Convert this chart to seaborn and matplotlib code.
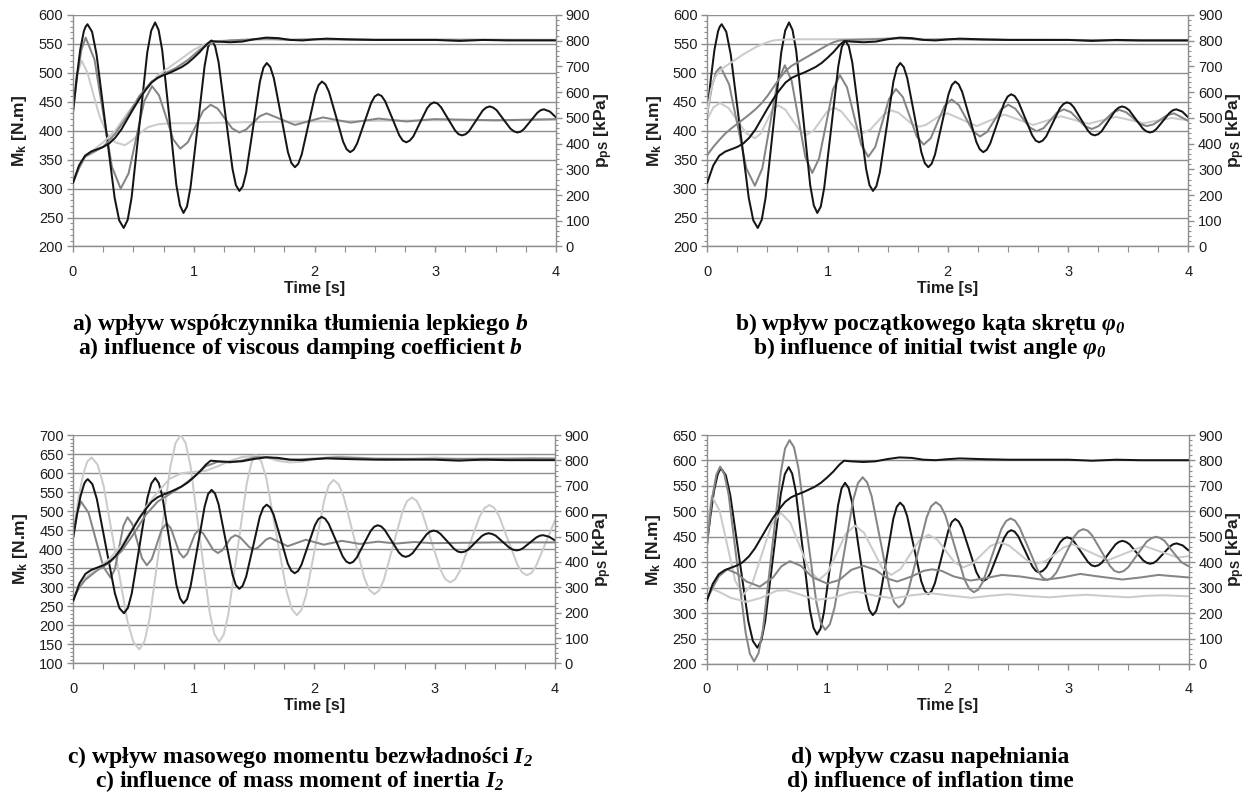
import matplotlib
matplotlib.use("Agg")
import matplotlib.pyplot as plt
import seaborn as sns
from matplotlib.ticker import MultipleLocator

# ---------------- data ----------------
# reference case (black): torque M_k [N.m] and pressure p_pS [kPa]
t_ref_M = [0, 0.03, 0.06, 0.09, 0.105, 0.12,
           0.158, 0.195, 0.27, 0.345, 0.383, 0.42,
           0.453, 0.485, 0.55, 0.615, 0.648, 0.68,
           0.709, 0.739, 0.798, 0.856, 0.886, 0.915,
           0.944, 0.973, 1.032, 1.09, 1.119, 1.148,
           1.177, 1.206, 1.263, 1.321, 1.349, 1.378,
           1.406, 1.435, 1.492, 1.548, 1.577, 1.605,
           1.634, 1.663, 1.722, 1.78, 1.809, 1.838,
           1.866, 1.894, 1.95, 2.006, 2.034, 2.062,
           2.091, 2.12, 2.179, 2.237, 2.266, 2.295,
           2.324, 2.353, 2.411, 2.469, 2.498, 2.527,
           2.556, 2.585, 2.644, 2.702, 2.731, 2.76,
           2.789, 2.818, 2.875, 2.933, 2.961, 2.99,
           3.019, 3.048, 3.106, 3.164, 3.193, 3.222,
           3.251, 3.279, 3.336, 3.393, 3.422, 3.45,
           3.479, 3.508, 3.565, 3.623, 3.651, 3.68,
           3.708, 3.735, 3.79, 3.845, 3.873, 3.90,
           3.95, 4.0]
M_ref = [432, 490, 540, 572, 580, 584,
         571, 532, 408, 284, 245, 232,
         246, 284, 409.5, 535, 573, 587,
         574, 539, 422.5, 306, 271, 258,
         269, 302, 407, 512, 545, 556,
         546, 518, 426, 334, 306, 296,
         304, 328, 406.5, 485, 509, 517,
         510, 491, 427, 363, 344, 337,
         343, 359, 411, 463, 479, 485,
         480, 467, 424, 381, 368, 363,
         367, 378, 413, 448, 459, 463,
         460, 451, 421.5, 392, 383, 380,
         383, 390, 414.5, 439, 446, 449,
         447, 440.5, 420.5, 400.5, 394, 392,
         394, 399, 417, 435, 440, 442,
         440, 435.5, 419.5, 403.5, 399, 397,
         398.5, 403, 417, 431, 435.5, 437,
         433, 423]
t_ref_p = [0, 0.05, 0.1, 0.15, 0.2, 0.25, 0.3, 0.35, 0.4, 0.45, 0.5, 0.55, 0.6, 0.65, 0.7, 0.75, 0.8, 0.85, 0.9,
           0.95, 1.0, 1.05, 1.1, 1.14, 1.2, 1.3, 1.4, 1.5, 1.6, 1.7, 1.8, 1.9, 2.0, 2.1, 2.3, 2.5, 2.7, 3.0, 3.2,
           3.4, 3.6, 3.8, 4.0]
p_ref = [247.5, 315, 353, 369, 378, 387, 400.5, 423, 454.5, 495, 535.5, 574, 607.5, 637, 655, 666, 675, 686,
         697.5, 713, 733.5, 756, 783, 799, 796.5, 794, 796.5, 805.5, 812, 810, 803, 801, 805, 808, 805, 803, 803,
         803, 799, 803, 801, 801, 801]

# panel a) viscous damping coefficient b
t_a_M_dg = [0, 0.035, 0.07, 0.105, 0.178, 0.25, 0.322, 0.395, 0.46, 0.525, 0.59, 0.655, 0.713, 0.772, 0.83, 0.888,
            0.951, 1.014, 1.077, 1.14, 1.199, 1.258, 1.318, 1.377, 1.433, 1.49, 1.546, 1.603, 1.72, 1.838, 1.954,
            2.07, 2.185, 2.3, 2.415, 2.53, 2.645, 2.76, 2.99, 3.5, 4.0]
M_a_dg = [432, 495, 540, 561, 523, 430.5, 338, 300, 326, 388.5, 451, 477, 461, 423, 385, 369, 380, 407, 434, 445,
          438, 421, 404, 397, 402, 413.5, 425, 430, 420, 410, 416.5, 423, 418.5, 414, 417.5, 421, 418.5, 416, 420,
          418, 420]
t_a_M_lg = [0, 0.03, 0.072, 0.12, 0.17, 0.22, 0.28, 0.35, 0.43, 0.5, 0.56, 0.62, 0.7, 0.8, 1.0, 1.5, 2.0, 2.5, 3.0,
            3.5, 4.0]
M_a_lg = [440, 495, 521, 500, 462, 425, 395, 380, 375, 385, 397, 406, 411, 413, 413, 415, 416, 417, 418, 418, 419]
t_a_p_dg = [0, 0.05, 0.1, 0.25, 0.35, 0.45, 0.55, 0.65, 0.75, 0.85, 0.95, 1.05, 1.15, 1.3, 1.6, 1.8, 2.0, 2.5,
            3.0, 4.0]
p_a_dg = [247.5, 304, 349, 387, 439, 506, 585, 641, 670.5, 693, 724.5, 765, 794, 801, 808, 803, 805.5, 803, 803,
          803]
t_a_p_lg = [0, 0.05, 0.1, 0.25, 0.35, 0.45, 0.6, 0.7, 0.8, 0.9, 1.0, 1.1, 1.2, 1.4, 2.0, 3.0, 4.0]
p_a_lg = [247.5, 310.5, 349, 405, 450, 517.5, 607.5, 664, 697.5, 731, 765, 787.5, 799, 803, 805.5, 805.5, 803]

# panel b) initial twist angle phi_0
t_b_M_dg = [0, 0.04, 0.075, 0.111, 0.182, 0.254, 0.325, 0.396, 0.458, 0.52, 0.583, 0.645, 0.702, 0.759, 0.816,
            0.873, 0.93, 0.988, 1.045, 1.103, 1.162, 1.221, 1.28, 1.339, 1.397, 1.454, 1.512, 1.569, 1.627, 1.685,
            1.742, 1.80, 1.858, 1.916, 1.974, 2.032, 2.091, 2.15, 2.209, 2.268, 2.327, 2.386, 2.444, 2.503, 2.562,
            2.621, 2.68, 2.739, 2.796, 2.853, 2.909, 2.966, 3.024, 3.082, 3.139, 3.197, 3.254, 3.312, 3.369, 3.426,
            3.483, 3.54, 3.597, 3.654, 3.711, 3.768, 3.824, 3.881, 4.0]
M_b_dg = [430, 478, 502, 510, 480, 407.5, 335, 305, 335, 409, 483, 513, 486, 420, 354, 327, 352, 411.5, 471, 496,
          475, 425.5, 376, 355, 372, 413.5, 455, 472, 458, 424, 390, 376, 387, 415, 443, 454, 444.5, 422, 399.5,
          390, 398, 417.5, 437, 445, 438, 422, 406, 399, 404.5, 418, 431.5, 437, 432, 420, 408, 403, 408, 419.5,
          431, 436, 432, 422, 412, 408, 411, 419, 427, 430, 417]
t_b_M_lg = [0, 0.05, 0.105, 0.178, 0.25, 0.323, 0.396, 0.444, 0.493, 0.541, 0.59, 0.649, 0.708, 0.767, 0.826,
            0.883, 0.94, 0.996, 1.053, 1.114, 1.175, 1.236, 1.297, 1.356, 1.415, 1.474, 1.533, 1.59, 1.648, 1.705,
            1.763, 1.822, 1.88, 1.94, 2.0, 2.12, 2.24, 2.355, 2.47, 2.59, 2.71, 2.825, 2.94, 3.055, 3.17, 3.285,
            3.4, 3.515, 3.63, 3.745, 3.86, 4.0]
M_b_lg = [420, 440, 448, 439, 417.5, 396, 387, 395, 415.5, 436, 444, 436.5, 418.5, 400.5, 393, 400, 416.5, 433,
          440, 433.5, 418, 402.5, 396, 402, 415.5, 429, 435, 431, 421, 411, 407, 410.5, 418.5, 426.5, 430, 419,
          408, 418, 428, 419, 410, 417.5, 425, 418.5, 412, 418, 424, 418.5, 413, 417.5, 422, 418]
t_b_p_dg = [0, 0.05, 0.1, 0.15, 0.2, 0.25, 0.3, 0.35, 0.4, 0.45, 0.5, 0.55, 0.6, 0.65, 0.7, 0.75, 0.8, 0.85, 0.9,
            0.95, 1.0, 1.05, 1.1, 1.2, 1.4, 1.6, 1.8, 2.0, 2.5, 3.0, 3.5, 4.0]
p_b_dg = [355.5, 387, 414, 439, 459, 477, 495, 513, 533, 556, 585, 619, 652.5, 682, 702, 715.5, 729, 742.5, 756,
          769.5, 783, 794, 801, 803, 805.5, 810, 803, 805.5, 803, 803, 801, 801]
t_b_p_lg = [0, 0.03, 0.06, 0.1, 0.15, 0.2, 0.25, 0.3, 0.35, 0.4, 0.45, 0.5, 0.55, 0.6, 0.7, 0.8, 1.0, 1.5, 2.0,
            3.0, 4.0]
p_b_lg = [522, 607.5, 652.5, 682, 700, 715.5, 731, 747, 760.5, 774, 785, 794, 801, 803, 805.5, 805.5, 805.5, 808,
          805.5, 803, 803]

# panel c) mass moment of inertia I_2
t_c_M_dg = [0, 0.03, 0.064, 0.126, 0.187, 0.249, 0.31, 0.345, 0.38, 0.415, 0.45, 0.49, 0.53, 0.57, 0.61, 0.651,
            0.693, 0.734, 0.775, 0.81, 0.845, 0.88, 0.915, 0.946, 0.978, 1.009, 1.04, 1.08, 1.12, 1.16, 1.2, 1.236,
            1.273, 1.309, 1.345, 1.384, 1.423, 1.461, 1.5, 1.534, 1.568, 1.601, 1.635, 1.708, 1.78, 1.855, 1.93,
            2.005, 2.08, 2.155, 2.23, 2.305, 2.38, 2.53, 2.68, 2.83, 2.98, 3.5, 4.0]
M_c_dg = [441, 495, 525, 496, 425, 354, 325, 348, 404.5, 461, 484, 465.5, 421, 376.5, 358, 374, 413, 452, 468,
          455, 423, 391, 378, 388.5, 414, 439.5, 450, 441, 420, 399, 390, 397, 413.5, 430, 437, 431.5, 418.5,
          405.5, 400, 404.5, 415, 425.5, 430, 419, 408, 416.5, 425, 418.5, 412, 417, 422, 418, 414, 420, 415, 419,
          416, 418, 418]
t_c_M_lg = [0, 0.04, 0.08, 0.115, 0.152,
            0.202, 0.251, 0.35, 0.449, 0.499, 0.548,
            0.591, 0.634, 0.72, 0.806, 0.849, 0.892,
            0.932, 0.972, 1.051, 1.131, 1.17, 1.21,
            1.249, 1.287, 1.364, 1.441, 1.48, 1.518,
            1.56, 1.603, 1.687, 1.772, 1.814, 1.856,
            1.894, 1.932, 2.008, 2.084, 2.122, 2.16,
            2.203, 2.245, 2.33, 2.415, 2.458, 2.50,
            2.539, 2.578, 2.655, 2.733, 2.771, 2.81,
            2.85, 2.89, 2.97, 3.049, 3.089, 3.129,
            3.17, 3.21, 3.292, 3.374, 3.414, 3.455,
            3.494, 3.533, 3.61, 3.688, 3.727, 3.766,
            3.805, 3.844, 3.921, 4.0]
M_c_lg = [441, 530, 595, 630, 641,
          622, 567, 389, 211, 156, 137,
          158, 219.5, 418.5, 617.5, 679, 700,
          679, 620.5, 428.5, 236.5, 178, 157,
          176, 229, 402, 575, 628, 647,
          631, 585.5, 437, 288.5, 243, 227,
          240.5, 279, 404.5, 530, 568.5, 582,
          570.5, 538, 432, 326, 293, 282,
          292, 319, 409, 499, 526, 536,
          527.5, 503, 424.5, 346, 321.5, 313,
          321, 343, 414.5, 486, 508, 516,
          509, 489, 424, 359, 339, 332,
          338, 357, 416, 476]
t_c_p_dg = [0, 0.05, 0.1, 0.2, 0.3, 0.4, 0.5, 0.6, 0.7, 0.8, 0.9, 1.0, 1.1, 1.2, 1.3, 1.4, 1.5, 1.6, 1.7, 1.8,
            2.0, 2.2, 2.5, 3.0, 3.5, 4.0]
p_c_dg = [255, 300, 330, 367.5, 397.5, 442.5, 510, 585, 637.5, 667.5, 697.5, 735, 777, 795, 792, 799.5, 811.5,
          813, 807, 802.5, 807, 811.5, 807, 805.5, 807, 807]
t_c_p_lg = [0, 0.05, 0.1, 0.2, 0.3, 0.4, 0.5, 0.6, 0.7, 0.8, 0.9, 1.0, 1.1, 1.2, 1.3, 1.4, 1.5, 1.6, 1.7, 1.8,
            1.9, 2.0, 2.1, 2.2, 2.4, 2.6, 2.8, 3.0, 3.2, 3.4, 3.6, 3.8, 4.0]
p_c_lg = [255, 307.5, 337.5, 375, 412.5, 465, 540, 615, 675, 727.5, 750, 754.5, 759, 777, 798, 813, 819, 813,
          798, 792, 795, 804, 811.5, 816, 810, 801, 805.5, 811.5, 805.5, 799.5, 805.5, 810, 807]

# panel d) inflation time
t_d_M_dg = [0, 0.04, 0.08, 0.111,
            0.146, 0.182, 0.252, 0.323, 0.358, 0.393,
            0.43, 0.467, 0.54, 0.614, 0.65, 0.687,
            0.724, 0.761, 0.835, 0.909, 0.946, 0.983,
            1.022, 1.061, 1.139, 1.216, 1.255, 1.294,
            1.331, 1.369, 1.444, 1.518, 1.556, 1.593,
            1.632, 1.67, 1.748, 1.825, 1.863, 1.902,
            1.941, 1.981, 2.06, 2.138, 2.178, 2.217,
            2.255, 2.293, 2.369, 2.445, 2.483, 2.521,
            2.559, 2.597, 2.674, 2.75, 2.788, 2.826,
            2.863, 2.901, 2.976, 3.05, 3.088, 3.125,
            3.162, 3.199, 3.273, 3.347, 3.384, 3.421,
            3.459, 3.498, 3.574, 3.65, 3.689, 3.727,
            3.76, 3.8, 3.87, 3.94, 4.0]
M_d_dg = [430, 520, 572, 588,
          573, 532, 396.5, 261, 220, 205,
          221.5, 269, 422.5, 576, 623.5, 640,
          626, 585, 453.5, 322, 281, 267,
          278, 311, 417, 523, 555.5, 567,
          557, 529.5, 439, 348.5, 321, 311,
          319, 341, 414.5, 488, 510, 518,
          511, 492, 429.5, 367, 348, 341,
          346.5, 362, 413.5, 465, 480.5, 486,
          481.5, 468, 425.5, 383, 369.5, 365,
          369, 379.5, 415, 450.5, 461, 465,
          462, 452.5, 422.5, 392.5, 383, 380,
          382.5, 390, 415, 440, 447, 450,
          448, 442, 420, 400, 392]
t_d_M_lg = [0, 0.02, 0.042, 0.107, 0.171, 0.236, 0.30, 0.379, 0.458, 0.536, 0.615, 0.694, 0.773, 0.851, 0.93,
            1.005, 1.08, 1.155, 1.23, 1.305, 1.38, 1.455, 1.53, 1.608, 1.685, 1.763, 1.84, 1.913, 1.985, 2.058,
            2.13, 2.205, 2.28, 2.355, 2.43, 2.508, 2.585, 2.663, 2.74, 2.815, 2.89, 2.965, 3.04, 3.185, 3.33, 3.48,
            3.63, 3.77, 3.91, 4.0]
M_d_lg = [424, 495, 530, 501, 432.5, 364, 335, 359, 416, 473, 497, 477.5, 431, 384.5, 365, 380.5, 418.5, 456,
          472, 458, 423.5, 389, 375, 386.5, 414.5, 442.5, 454, 444.5, 422, 399.5, 390, 397, 414.5, 432, 439, 433,
          418, 403, 397, 402.5, 416, 429.5, 435, 419.5, 404, 418, 432, 420.5, 409, 412]
t_d_p_dg = [0, 0.05, 0.1, 0.17, 0.25, 0.33, 0.44, 0.55, 0.62, 0.69, 0.78, 0.88, 1.0, 1.1, 1.2, 1.3, 1.4, 1.5,
            1.58, 1.7, 1.8, 1.87, 1.95, 2.05, 2.19, 2.3, 2.45, 2.6, 2.8, 2.95, 3.1, 3.25, 3.45, 3.6, 3.75, 3.9, 4.0]
p_d_dg = [252, 300, 344, 372, 356, 324, 304, 340, 384, 404, 386, 340, 316, 330, 370, 386, 370, 336, 324, 344, 366,
          372, 366, 344, 328, 336, 350, 344, 330, 340, 354, 344, 332, 340, 350, 344, 340]
t_d_p_lg = [0, 0.1, 0.2, 0.33, 0.45, 0.58, 0.66, 0.78, 0.91, 1.05, 1.18, 1.25, 1.4, 1.55, 1.7, 1.86, 2.0, 2.2,
            2.35, 2.5, 2.7, 2.85, 3.0, 3.15, 3.35, 3.5, 3.65, 3.8, 4.0]
p_d_lg = [304, 284, 260, 244, 260, 288, 290, 272, 252, 260, 280, 284, 268, 258, 270, 278, 270, 260, 268, 274, 266,
          262, 268, 272, 266, 262, 268, 270, 266]

x_ticks = [0, 1, 2, 3, 4]

captions = [
    ("a) wpływ współczynnika tłumienia lepkiego $\\mathit{b}$",
     "a) influence of viscous damping coefficient $\\mathit{b}$"),
    ("b) wpływ początkowego kąta skrętu $\\mathit{φ_0}$",
     "b) influence of initial twist angle $\\mathit{φ_0}$"),
    ("c) wpływ masowego momentu bezwładności $\\mathit{I_2}$",
     "c) influence of mass moment of inertia $\\mathit{I_2}$"),
    ("d) wpływ czasu napełniania",
     "d) influence of inflation time"),
]

# ---------------- styling ----------------
sns.set_theme(style="white")
plt.rcParams["font.family"] = ["Liberation Sans", "DejaVu Sans"]
plt.rcParams["mathtext.fontset"] = "custom"
plt.rcParams["mathtext.rm"] = "Liberation Serif:italic:bold"
plt.rcParams["mathtext.bf"] = "Liberation Sans:bold"
plt.rcParams["mathtext.it"] = "Liberation Serif:italic:bold"

BLACK = "#151515"
DGRAY = "#858585"
LGRAY = "#cbcbcb"
GRID = "#8e8e8e"
SPINE = "#8e8e8e"
TXT = "#1e1e1e"
LW = 1.45

fig = plt.figure(figsize=(12.54, 8.05), dpi=100)


def make_panel(rect, ylo, yhi, moments, pressures):
    ax = fig.add_axes(rect)
    ax2 = ax.twinx()
    for t, v, c in moments:
        sns.lineplot(x=t, y=v, ax=ax, color=c, lw=LW, estimator=None, sort=False)
    for t, v, c in pressures:
        sns.lineplot(x=t, y=v, ax=ax2, color=c, lw=LW, estimator=None, sort=False)
    ax.set_xlim(0, 4)
    ax.set_ylim(ylo, yhi)
    ax2.set_ylim(0, 900)
    ax.set_xticks(x_ticks)
    ax.xaxis.set_minor_locator(MultipleLocator(0.25))
    ax.yaxis.set_major_locator(MultipleLocator(50))
    ax.yaxis.set_minor_locator(MultipleLocator(10))
    ax2.yaxis.set_major_locator(MultipleLocator(100))
    ax2.yaxis.set_minor_locator(MultipleLocator(20))
    ax.grid(False)
    ax2.grid(False)
    ax.yaxis.grid(True, which="major", color=GRID, lw=1.0)
    ax.set_axisbelow(True)
    for s in ("top", "right"):
        ax.spines[s].set_visible(False)
    for s in ("top", "left", "bottom"):
        ax2.spines[s].set_visible(False)
    for s in ("left", "bottom"):
        ax.spines[s].set_color(SPINE)
        ax.spines[s].set_linewidth(1.0)
    ax2.spines["right"].set_color(SPINE)
    ax2.spines["right"].set_linewidth(1.0)
    ax.tick_params(axis="y", which="major", left=True, direction="out", length=4, width=1, color=SPINE,
                   labelsize=10.5, labelcolor=TXT, pad=3)
    ax.tick_params(axis="y", which="minor", left=True, direction="out", length=2, width=0.8, color=SPINE)
    ax.tick_params(axis="x", which="major", bottom=True, direction="out", length=4, width=1, color=SPINE,
                   labelsize=10.5, labelcolor=TXT, pad=9)
    ax.tick_params(axis="x", which="minor", bottom=True, direction="out", length=4, width=0.8, color=SPINE)
    ax2.tick_params(axis="y", which="major", right=True, direction="out", length=4, width=1, color=SPINE,
                    labelsize=10.5, labelcolor=TXT, pad=3)
    ax2.tick_params(axis="y", which="minor", right=True, direction="out", length=2, width=0.8, color=SPINE)
    ax.set_xlabel("Time [s]", fontsize=11.5, fontweight="bold", color=TXT, labelpad=1.5)
    ax.set_ylabel(r"$\mathbf{M_k}$ [N.m]", fontsize=12.5, fontweight="bold", color=TXT)
    ax2.set_ylabel(r"$\mathbf{p_{pS}}$ [kPa]", fontsize=12.5, fontweight="bold", color=TXT, rotation=90)
    ax.yaxis.set_label_coords(-0.11, 0.5)
    ax2.yaxis.set_label_coords(1.098, 0.5)
    ax.yaxis.label.set_va("center")
    ax2.yaxis.label.set_va("center")
    return ax, ax2


make_panel([0.0582, 0.6938, 0.3852, 0.2876], 200, 600,
           [(t_a_M_lg, M_a_lg, LGRAY), (t_a_M_dg, M_a_dg, DGRAY), (t_ref_M, M_ref, BLACK)],
           [(t_a_p_lg, p_a_lg, LGRAY), (t_a_p_dg, p_a_dg, DGRAY), (t_ref_p, p_ref, BLACK)])
make_panel([0.5640, 0.6938, 0.3836, 0.2876], 200, 600,
           [(t_b_M_lg, M_b_lg, LGRAY), (t_b_M_dg, M_b_dg, DGRAY), (t_ref_M, M_ref, BLACK)],
           [(t_b_p_lg, p_b_lg, LGRAY), (t_b_p_dg, p_b_dg, DGRAY), (t_ref_p, p_ref, BLACK)])
make_panel([0.0585, 0.1758, 0.3841, 0.2838], 100, 700,
           [(t_c_M_lg, M_c_lg, LGRAY), (t_c_M_dg, M_c_dg, DGRAY), (t_ref_M, M_ref, BLACK)],
           [(t_c_p_lg, p_c_lg, LGRAY), (t_c_p_dg, p_c_dg, DGRAY), (t_ref_p, p_ref, BLACK)])
make_panel([0.5636, 0.1752, 0.3843, 0.2844], 200, 650,
           [(t_ref_M, M_ref, BLACK), (t_d_M_lg, M_d_lg, LGRAY), (t_d_M_dg, M_d_dg, DGRAY)],
           [(t_d_p_lg, p_d_lg, LGRAY), (t_d_p_dg, p_d_dg, DGRAY), (t_ref_p, p_ref, BLACK)])

cap_pos = [(0.2392, 1 - 324 / 805, 1 - 348 / 805), (0.7416, 1 - 324 / 805, 1 - 348 / 805),
           (0.2392, 1 - 757 / 805, 1 - 781 / 805), (0.7416, 1 - 757 / 805, 1 - 781 / 805)]
for (l1, l2), (cx, y1, y2) in zip(captions, cap_pos):
    for txt, yy in ((l1, y1), (l2, y2)):
        fig.text(cx, yy, txt, family="Liberation Serif", fontweight="bold", fontsize=17,
                 ha="center", va="center", color="black")

fig.savefig("out.png", dpi=100)
